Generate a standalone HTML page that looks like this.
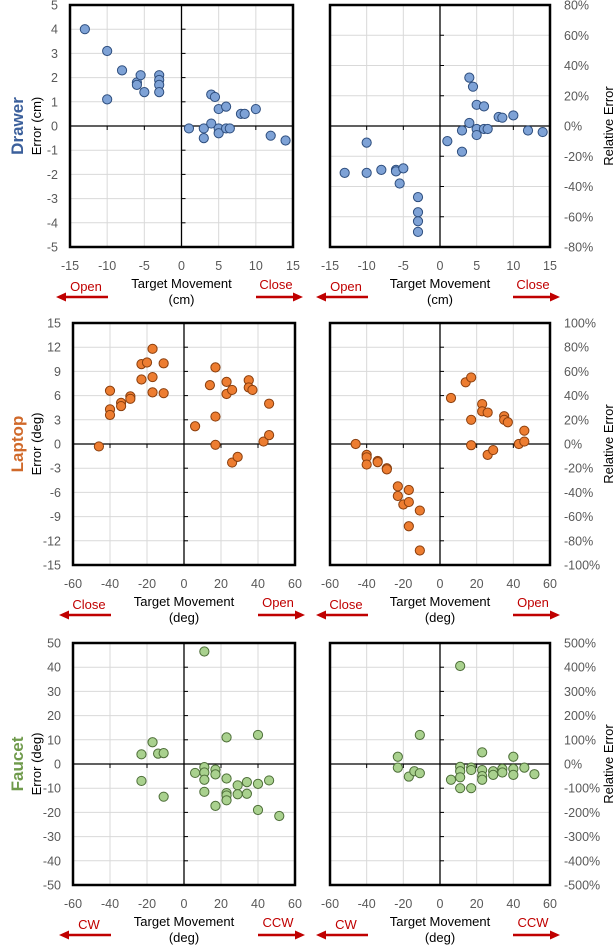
<!DOCTYPE html>
<html><head><meta charset="utf-8">
<style>
html,body{margin:0;padding:0;background:#fff;}
svg{display:block;font-family:"Liberation Sans",sans-serif;}
</style></head>
<body>
<svg id="fig" width="614" height="946" viewBox="0 0 614 946"></svg>
<script>
// ---- Data arrays ----
const drawerX = [-13,-10,-10,-8,-6,-6,-5.5,-5,-3,-3,-3,-3,1,3,3,4,4,4.5,5,5,5,6,6,6.5,8,8.5,10,12,14];
const drawerErr = [4,3.1,1.1,2.3,1.8,1.7,2.1,1.4,2.1,1.9,1.7,1.4,-0.1,-0.1,-0.5,1.3,0.1,1.2,0.7,-0.1,-0.3,0.8,-0.1,-0.1,0.5,0.5,0.7,-0.4,-0.6];
const drawerRelX = [-13,-10,-10,-8,-6,-6,-5,-5.5,-3,-3,-3,-3,1,3,3,4,4,4.5,5,5,5,6,6,6.5,8,8.5,10,12,14];
const drawerRel = [-31,-11,-31,-29,-29,-30,-28,-38,-47,-57,-63,-70,-10,-3,-17,32,2,26,14,-2,-6,13,-2,-2,6,5.5,7,-3,-4];
const laptopX = [-46,-40,-40,-40,-34,-34,-29,-29,-23,-23,-20,-17,-17,-17,-11,-11,6,14,17,17,17,23,23,26,26,29,35,35,37,43,46,46];
const laptopErr = [-0.3,6.6,4.3,3.6,5.1,4.7,5.9,5.6,9.9,8,10.1,11.8,8.3,6.4,10,6.3,2.2,7.3,9.5,3.4,-0.1,7.7,6.2,6.7,-2.3,-1.6,7.9,7,6.7,0.3,5,1.1];
const laptopRel = [0,-9,-11,-17,-14,-15,-20,-21,-35,-43,-50,-38,-48,-68,-55,-88,38,51,55,20,-1,33,27,26,-9,-5,23,20,18,0,11,2];
const faucetX = [-23,-23,-17,-14,-11,-11,6,11,11,11,11,11,17,17,17,23,23,23,23,23,29,29,34,34,40,40,40,46,51.5];
const faucetErr = [4,-7,9,4.3,4.5,-13.5,-3.7,46.5,-1.3,-3.5,-6.5,-11.5,-2.3,-4.3,-17.3,11,-6,-12,-13,-15,-8.8,-12.5,-7.5,-12.3,12,-8.2,-19,-6.8,-21.5];
const faucetRelX = [-23,-23,-17,-14,-11,-11,6,11,11,11,11,11,17,17,17,23,23,23,23,29,29,34,34,40,40,40,46,51.5];
const faucetRel = [30,-15,-52,-30,120,-38,-65,405,-12,-30,-55,-100,-15,-25,-100,48,-25,-50,-65,-30,-45,-20,-35,30,-20,-45,-15,-42];
const drawerXTicks = [-15,-10,-5,0,5,10,15];
const degXTicks = [-60,-40,-20,0,20,40,60];
const drawerYTicks = [-5,-4,-3,-2,-1,0,1,2,3,4,5];
const drawerRelTicks = [-80,-60,-40,-20,0,20,40,60,80];
const laptopYTicks = [-15,-12,-9,-6,-3,0,3,6,9,12,15];
const laptopRelTicks = [-100,-80,-60,-40,-20,0,20,40,60,80,100];
const faucetYTicks = [-50,-40,-30,-20,-10,0,10,20,30,40,50];
const faucetRelTicks = [-500,-400,-300,-200,-100,0,100,200,300,400,500];

const NS = "http://www.w3.org/2000/svg";
const svg = document.getElementById('fig');
function mk(tag, attrs, parent, text){
  const e = document.createElementNS(NS, tag);
  for (const k in attrs) e.setAttribute(k, attrs[k]);
  if (text !== undefined) e.textContent = text;
  (parent||svg).appendChild(e);
  return e;
}
function panel(name, box, xTicks, yTicks, xs, ys, fill, stroke, side, fmt){
  const g = mk('g', {});
  
  
  const [x0,x1,y0,y1] = box;
  const xmin = xTicks[0], xmax = xTicks[xTicks.length-1];
  const ymin = yTicks[0], ymax = yTicks[yTicks.length-1];
  const sx = v => x0 + (v - xmin) / (xmax - xmin) * (x1 - x0);
  const sy = v => y1 - (v - ymin) / (ymax - ymin) * (y1 - y0);
  xTicks.forEach(t => { if (t !== 0) {
    const l = mk('line', {x1:sx(t), x2:sx(t), y1:y0, y2:y1, stroke:'#d9d9d9', 'stroke-width':1}, g);
    
    
  }});
  yTicks.forEach(t => { if (t !== 0) {
    const l = mk('line', {x1:x0, x2:x1, y1:sy(t), y2:sy(t), stroke:'#d9d9d9', 'stroke-width':1}, g);
    
    
  }});
  const ax = mk('line', {x1:x0, x2:x1, y1:sy(0), y2:sy(0), stroke:'#000', 'stroke-width':1.3}, g);
  
  
  const ay = mk('line', {x1:sx(0), x2:sx(0), y1:y0, y2:y1, stroke:'#000', 'stroke-width':1.3}, g);
  
  
  yTicks.forEach(t => mk('line', {x1:sx(0), x2:sx(0)+4, y1:sy(t), y2:sy(t), stroke:'#000', 'stroke-width':1}, g));
  xTicks.forEach(t => mk('line', {x1:sx(t), x2:sx(t), y1:sy(0), y2:sy(0)+4, stroke:'#000', 'stroke-width':1}, g));
  xTicks.forEach(t => {
    const tx = mk('text', {x:sx(t), y:y1+23, 'text-anchor':'middle', 'font-size':12.5, fill:'#595959'}, g, String(t));
    
    
  });
  yTicks.forEach(t => {
    const tx = side === 'left'
      ? mk('text', {x:x0-12, y:sy(t)+4.5, 'text-anchor':'end', 'font-size':12.5, fill:'#595959'}, g, String(t))
      : mk('text', {x:x1+14, y:sy(t)+4.5, 'text-anchor':'start', 'font-size':12.5, fill:'#595959'}, g, t + '%');
    
    
  });
  xs.forEach((v, i) => {
    const c = mk('circle', {cx:sx(v), cy:sy(ys[i]), r:4.6, fill:fill, stroke:stroke, 'stroke-width':1}, g);
    
    
  });
  const f = mk('rect', {x:x0, y:y0, width:x1-x0, height:y1-y0, fill:'none', stroke:'#000', 'stroke-width':2.5}, g);
  
  
  const xt = mk('text', {x:(x0+x1)/2, y:y1+41, 'text-anchor':'middle', 'font-size':13, fill:'#000'}, g, 'Target Movement');
  
  
  const xu = mk('text', {x:(x0+x1)/2, y:y1+57, 'text-anchor':'middle', 'font-size':13, fill:'#000'}, g, fmt.unit);
  
  
  const lx = x0 - 12, rx = x1 - 37;
  const dl = mk('text', {x:lx+28, y:y1+44, 'text-anchor':'middle', 'font-size':13, fill:'#c00000'}, g, fmt.left);
  
  
  mk('line', {x1:lx+6, x2:lx+50, y1:y1+50, y2:y1+50, stroke:'#c00000', 'stroke-width':2.5}, g);
  mk('polygon', {points:`${lx-2},${y1+50} ${lx+8},${y1+45.5} ${lx+8},${y1+54.5}`, fill:'#c00000'}, g);
  const dr = mk('text', {x:rx+20, y:y1+42, 'text-anchor':'middle', 'font-size':13, fill:'#c00000'}, g, fmt.right);
  
  
  mk('line', {x1:rx, x2:rx+38, y1:y1+50, y2:y1+50, stroke:'#c00000', 'stroke-width':2.5}, g);
  mk('polygon', {points:`${rx+47},${y1+50} ${rx+37},${y1+45.5} ${rx+37},${y1+54.5}`, fill:'#c00000'}, g);
  const cy = (y0+y1)/2;
  if (side === 'left') {
    const yt = mk('text', {x:0, y:0, transform:`translate(41,${cy}) rotate(-90)`, 'text-anchor':'middle', 'font-size':13, fill:'#000'}, g, fmt.ytitle);
    
    
    const rt = mk('text', {x:0, y:0, transform:`translate(23,${cy}) rotate(-90)`, 'text-anchor':'middle', 'font-size':17, 'font-weight':'bold', fill:fmt.color}, g, fmt.row);
    
    
  } else {
    const yt = mk('text', {x:0, y:0, transform:`translate(613,${cy}) rotate(-90)`, 'text-anchor':'middle', 'font-size':13, fill:'#000'}, g, 'Relative Error');
    
    
  }
}
const blue=['#7ea2d6','#2e4e7e'], orange=['#ed7d31','#8a3e0d'], green=['#a9d18e','#4d6e38'];
panel('drawer-error-chart',[70,293,5,247],drawerXTicks,drawerYTicks,drawerX,drawerErr,blue[0],blue[1],'left',{unit:'(cm)',left:'Open',right:'Close',ytitle:'Error (cm)',row:'Drawer',color:'#3b5f9b'});
panel('drawer-relative-chart',[330,550,5,247],drawerXTicks,drawerRelTicks,drawerRelX,drawerRel,blue[0],blue[1],'right',{unit:'(cm)',left:'Open',right:'Close'});
panel('laptop-error-chart',[73,295,323,565],degXTicks,laptopYTicks,laptopX,laptopErr,orange[0],orange[1],'left',{unit:'(deg)',left:'Close',right:'Open',ytitle:'Error (deg)',row:'Laptop',color:'#d0692a'});
panel('laptop-relative-chart',[330,550,323,565],degXTicks,laptopRelTicks,laptopX,laptopRel,orange[0],orange[1],'right',{unit:'(deg)',left:'Close',right:'Open'});
panel('faucet-error-chart',[73,295,643,885],degXTicks,faucetYTicks,faucetX,faucetErr,green[0],green[1],'left',{unit:'(deg)',left:'CW',right:'CCW',ytitle:'Error (deg)',row:'Faucet',color:'#6f9a4b'});
panel('faucet-relative-chart',[330,550,643,885],degXTicks,faucetRelTicks,faucetRelX,faucetRel,green[0],green[1],'right',{unit:'(deg)',left:'CW',right:'CCW'});
</script>
</body></html>
